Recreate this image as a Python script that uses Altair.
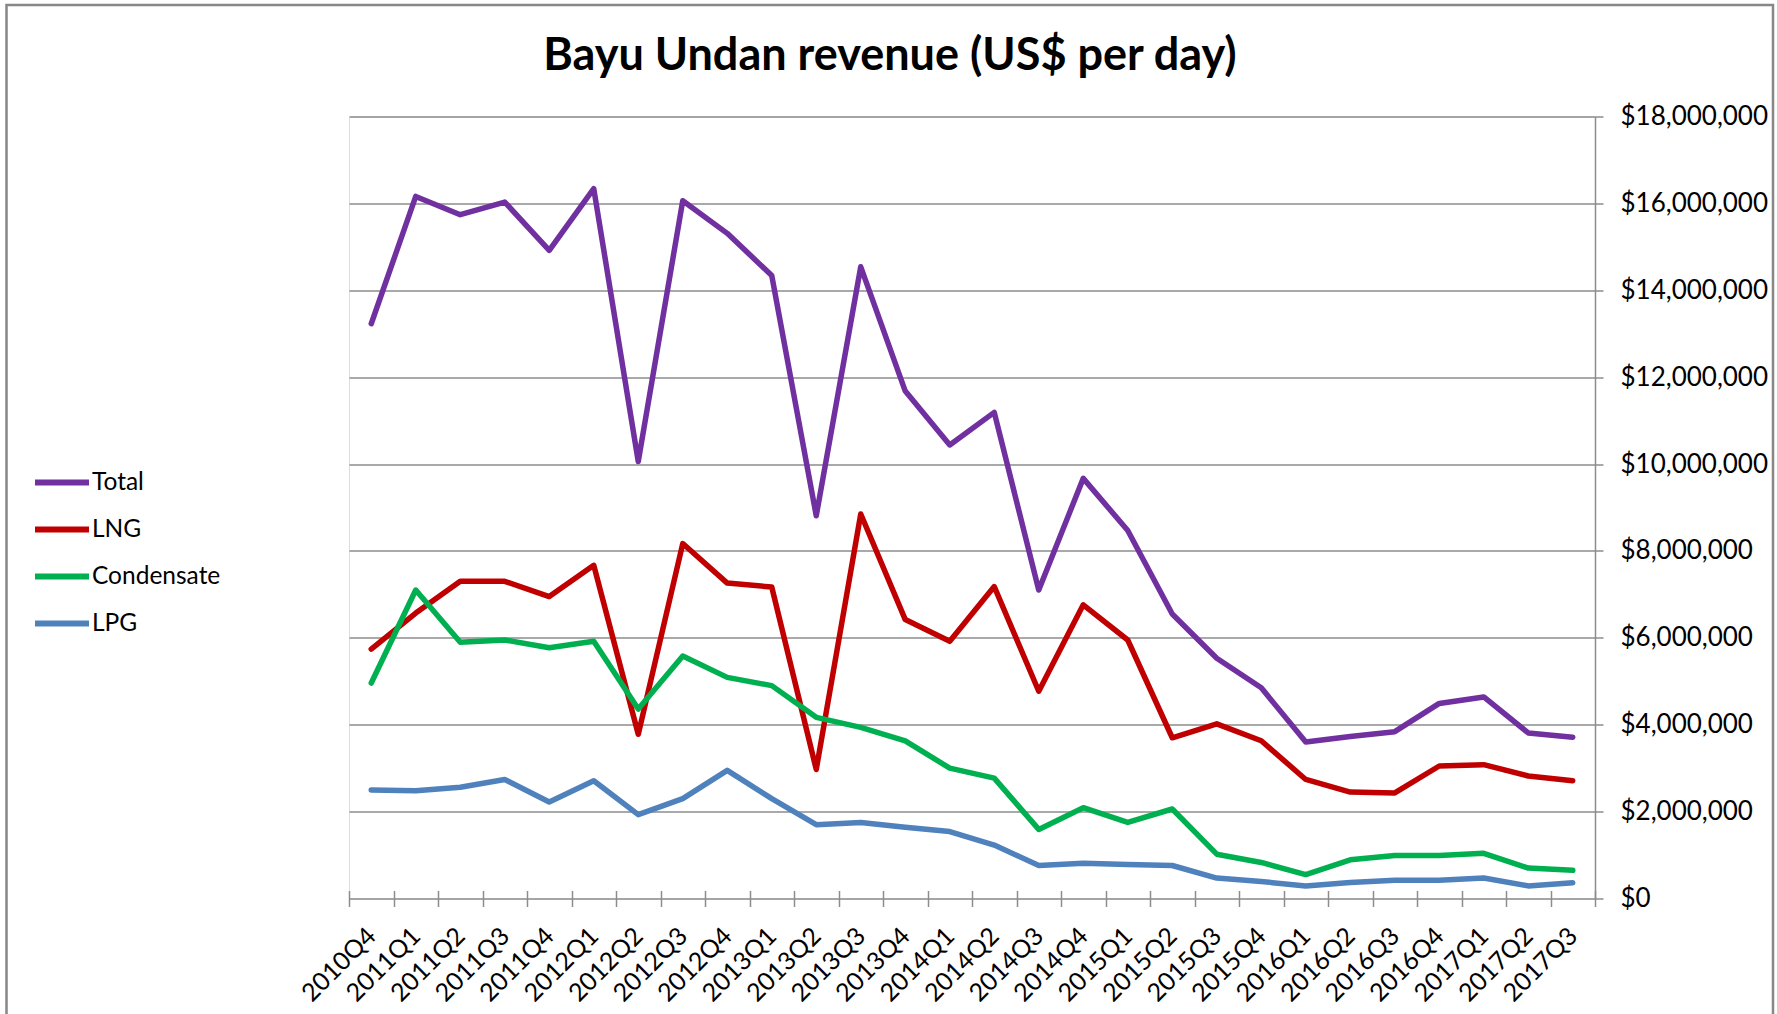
import altair as alt
import pandas as pd

quarters = ["2010Q4", "2011Q1", "2011Q2", "2011Q3", "2011Q4", "2012Q1", "2012Q2",
            "2012Q3", "2012Q4", "2013Q1", "2013Q2", "2013Q3", "2013Q4", "2014Q1",
            "2014Q2", "2014Q3", "2014Q4", "2015Q1", "2015Q2", "2015Q3", "2015Q4",
            "2016Q1", "2016Q2", "2016Q3", "2016Q4", "2017Q1", "2017Q2", "2017Q3"]

# values in millions of US$ per day
total = [13.23, 16.16, 15.74, 16.03, 14.92, 16.34, 10.06, 16.06, 15.31, 14.34,
         8.81, 14.54, 11.68, 10.44, 11.19, 7.10, 9.67, 8.47, 6.55, 5.53,
         4.85, 3.60, 3.73, 3.84, 4.49, 4.64, 3.81, 3.71]
lng = [5.74, 6.57, 7.30, 7.30, 6.95, 7.67, 3.78, 8.17, 7.26, 7.17,
       2.97, 8.85, 6.42, 5.92, 7.18, 4.77, 6.76, 5.95, 3.70, 4.02,
       3.63, 2.74, 2.45, 2.43, 3.05, 3.08, 2.82, 2.71]
condensate = [4.96, 7.10, 5.90, 5.95, 5.77, 5.92, 4.36, 5.58, 5.09, 4.90,
              4.17, 3.94, 3.63, 3.00, 2.77, 1.59, 2.09, 1.75, 2.06, 1.02,
              0.83, 0.55, 0.89, 0.99, 0.99, 1.04, 0.70, 0.65]
lpg = [2.50, 2.48, 2.56, 2.74, 2.22, 2.71, 1.93, 2.30, 2.95, 2.30,
       1.70, 1.75, 1.64, 1.54, 1.23, 0.76, 0.81, 0.78, 0.76, 0.47,
       0.39, 0.29, 0.37, 0.42, 0.42, 0.47, 0.29, 0.36]

series_names = ["Total", "LNG", "Condensate", "LPG"]
series_colors = ["#7030A0", "#C00000", "#00B050", "#4F81BD"]
y_ticks = [0, 2000000, 4000000, 6000000, 8000000, 10000000, 12000000,
           14000000, 16000000, 18000000]

rows = []
for name, vals in zip(series_names, [total, lng, condensate, lpg]):
    for q, v in zip(quarters, vals):
        rows.append({"quarter": q, "series": name, "value": v * 1e6})
df = pd.DataFrame(rows)

W, H = 1246, 782
PAD_L, PAD_T = 349, 116.5
CANVAS_W, CANVAS_H = 1777, 1014
GRAY = "#8c8c8c"
FONT = "Lato"

lines = alt.Chart(df).mark_line(
    strokeWidth=5.5, strokeJoin="round", strokeCap="round"
).encode(
    x=alt.X(
        "quarter:N",
        sort=quarters,
        scale=alt.Scale(type="band", paddingInner=0, paddingOuter=0),
        axis=alt.Axis(
            title=None,
            labelAngle=-45,
            labelAlign="right",
            labelBaseline="middle",
            labelFont=FONT,
            labelFontSize=25,
            labelColor="black",
            labelPadding=25,
            tickBand="extent",
            tickSize=16,
            tickColor=GRAY,
            tickWidth=1.5,
            domain=False,
            offset=-8,
            grid=False,
        ),
    ),
    y=alt.Y(
        "value:Q",
        scale=alt.Scale(domain=[0, 18000000], nice=False),
        axis=alt.Axis(
            title=None,
            orient="right",
            values=y_ticks,
            format="$,.0f",
            labelFont=FONT,
            labelFontSize=26,
            labelColor="black",
            labelPadding=17,
            labelBaseline="middle",
            tickSize=8,
            tickColor=GRAY,
            tickWidth=1.5,
            domainColor=GRAY,
            domainWidth=1.5,
            grid=True,
            gridColor=GRAY,
            gridWidth=1.5,
        ),
    ),
    color=alt.Color(
        "series:N",
        sort=series_names,
        scale=alt.Scale(domain=series_names, range=series_colors),
        legend=alt.Legend(
            title=None,
            orient="none",
            legendX=-317,
            legendY=336,
            symbolType="stroke",
            symbolSize=2916,
            symbolStrokeWidth=6,
            labelFont=FONT,
            labelFontSize=24.5,
            labelColor="black",
            labelOffset=0,
            rowPadding=5,
            padding=0,
        ),
    ),
)

frame = alt.Chart(pd.DataFrame({"k": [0]})).mark_rect(
    fillOpacity=0, stroke="#878787", strokeWidth=2.5, clip=False
).encode(
    x=alt.value(6.5 - PAD_L),
    x2=alt.value(1773 - PAD_L),
    y=alt.value(5 - PAD_T),
    y2=alt.value(CANVAS_H + 20 - PAD_T),
)

chart = alt.layer(frame, lines).properties(
    width=W,
    height=H,
    title=alt.Title(
        text="Bayu Undan revenue (US$ per day)",
        font=FONT,
        fontSize=45,
        fontWeight="bold",
        color="black",
        anchor="middle",
        frame="group",
        dx=-82,
        offset=-111,
        baseline="alphabetic",
    ),
    padding={"left": PAD_L, "top": PAD_T, "right": CANVAS_W - PAD_L - W,
             "bottom": CANVAS_H - PAD_T - H},
    autosize=alt.AutoSizeParams(type="none"),
).configure_view(stroke=None).configure(background="white")

chart.save("out.html", embed_options={"renderer": "svg", "actions": False})
